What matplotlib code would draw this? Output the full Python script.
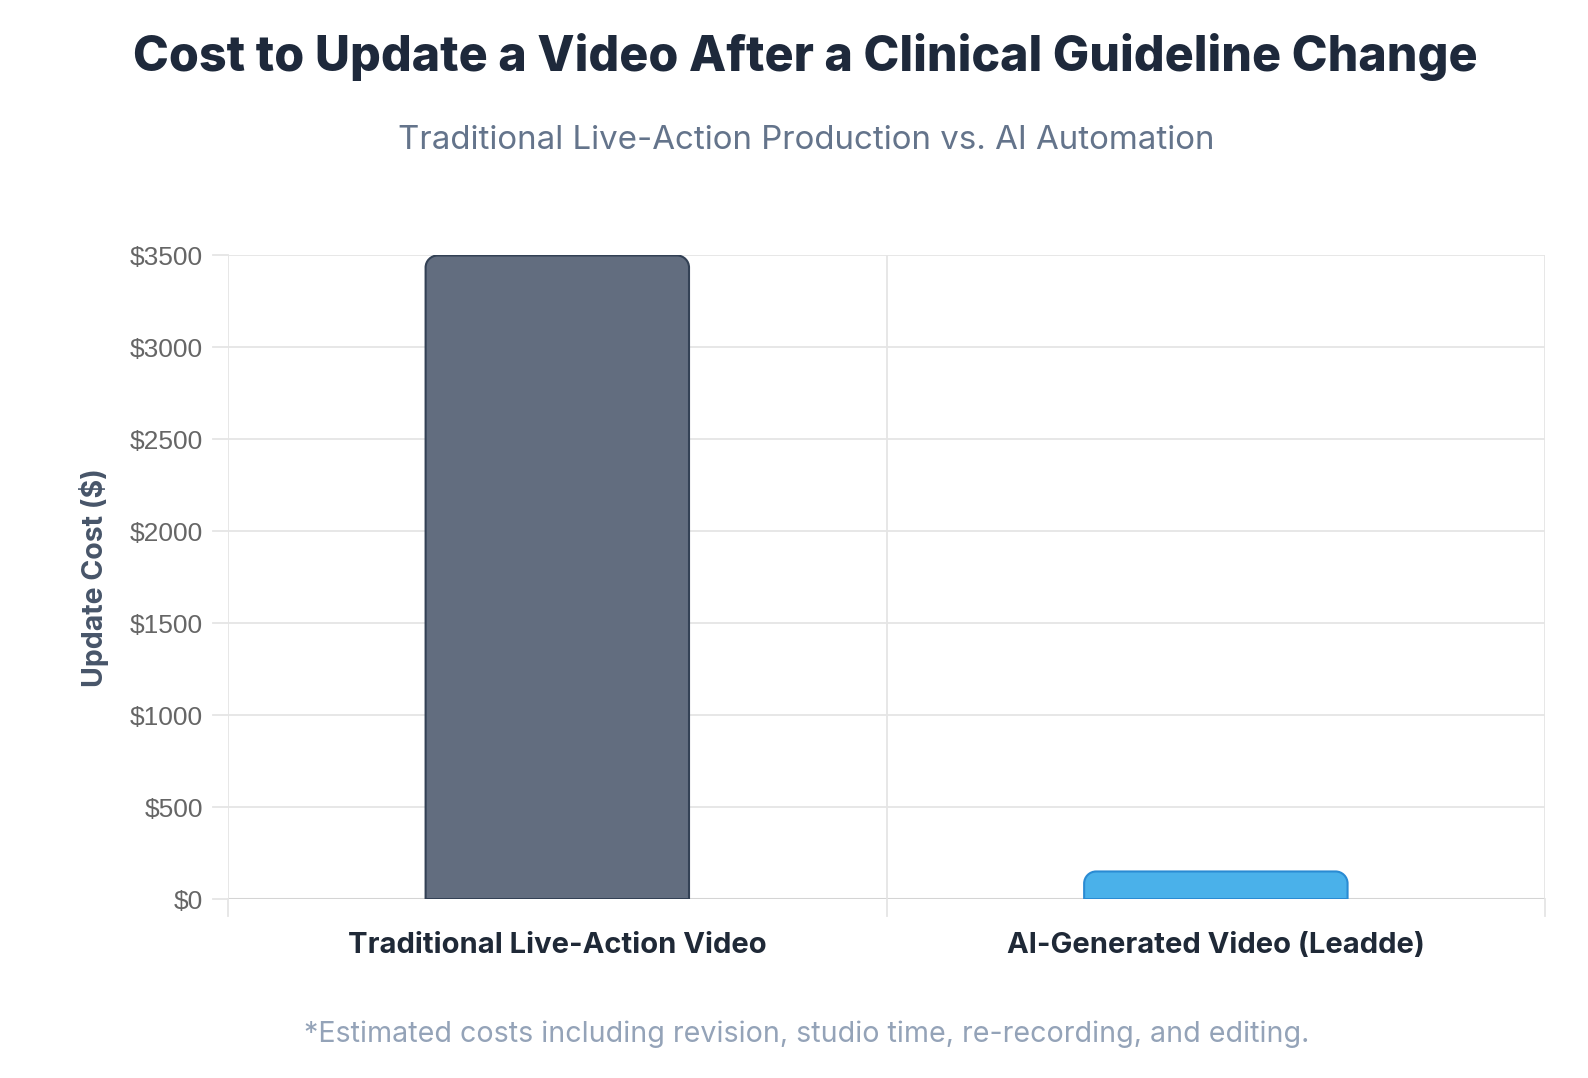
import matplotlib.pyplot as plt
from matplotlib.path import Path
from matplotlib.patches import PathPatch

categories = ["Traditional Live-Action Video", "AI-Generated Video (Leadde)"]
costs = [3500, 150]
y_ticks = [0, 500, 1000, 1500, 2000, 2500, 3000, 3500]

fill_colors = ["#626d7f", "#4ab1ea"]
edge_colors = ["#334155", "#2a8bd3"]

TITLE_FONT = ["Inter", "DejaVu Sans"]
TICK_FONT = ["Liberation Sans", "DejaVu Sans"]


def rounded_top_bar(ax, rect, radius_px, face, edge):
    # bar path with rounded top corners, radius in pixels
    x0, y0 = rect.get_x(), rect.get_y()
    w, h = rect.get_width(), rect.get_height()
    bbox = ax.get_window_extent()
    xl, yl = ax.get_xlim(), ax.get_ylim()
    rx = radius_px * (xl[1] - xl[0]) / bbox.width
    ry = min(radius_px * (yl[1] - yl[0]) / bbox.height, h)
    k = 0.5523
    verts = [
        (x0, y0),
        (x0, y0 + h - ry),
        (x0, y0 + h - ry + k * ry), (x0 + rx - k * rx, y0 + h), (x0 + rx, y0 + h),
        (x0 + w - rx, y0 + h),
        (x0 + w - rx + k * rx, y0 + h), (x0 + w, y0 + h - ry + k * ry), (x0 + w, y0 + h - ry),
        (x0 + w, y0),
        (x0, y0),
    ]
    codes = [Path.MOVETO, Path.LINETO,
             Path.CURVE4, Path.CURVE4, Path.CURVE4,
             Path.LINETO,
             Path.CURVE4, Path.CURVE4, Path.CURVE4,
             Path.LINETO, Path.CLOSEPOLY]
    patch = PathPatch(Path(verts, codes), facecolor=face, edgecolor=edge,
                      linewidth=1.5, zorder=3)
    ax.add_patch(patch)
    rect.set_visible(False)


fig = plt.figure(figsize=(15.88, 10.78), dpi=100)
ax = fig.add_axes([0.1436, 0.166, 0.8294, 0.597])

x = list(range(len(categories)))
bars = ax.bar(x, costs, width=0.4, color=fill_colors, zorder=3)

ax.set_xlim(-0.5, len(categories) - 0.5)
ax.set_ylim(0, 3500)
ax.set_yticks(y_ticks)
ax.set_yticklabels([f"${v}" for v in y_ticks], fontsize=19, color="#666666",
                   family=TICK_FONT)
ax.set_xticks(x)
ax.set_xticklabels(categories, fontsize=21, fontweight="bold", color="#1f2937",
                   family=TITLE_FONT)

# gridlines: horizontal at ticks, vertical at category boundaries
for v in y_ticks:
    ax.axhline(v, color="#e5e5e5", linewidth=1.3, zorder=0)
    ax.plot([-0.5 - 0.023, -0.5], [v, v], color="#e5e5e5", linewidth=1.3,
            clip_on=False)
for b in [-0.5, 0.5, 1.5]:
    ax.axvline(b, color="#e5e5e5", linewidth=1.3, zorder=0)
    ax.plot([b, b], [0, -3500 * 0.026], color="#e5e5e5", linewidth=1.3,
            clip_on=False)
ax.axhline(0, color="#d4d4d4", linewidth=1.5, zorder=1)

for s in ax.spines.values():
    s.set_visible(False)
ax.tick_params(axis="y", length=0, pad=18)
ax.tick_params(axis="x", length=0, pad=24)

ax.set_ylabel("Update Cost ($)", fontsize=20.5, fontweight="bold", color="#475569",
              family=TITLE_FONT, labelpad=15)

fig.canvas.draw()
for rect, fc, ec in zip(bars, fill_colors, edge_colors):
    rounded_top_bar(ax, rect, 12, fc, ec)

fig.text(0.507, 0.947, "Cost to Update a Video After a Clinical Guideline Change",
         ha="center", va="center", fontsize=34.8, fontweight=800,
         color="#1e293b", family=TITLE_FONT)
fig.text(0.508, 0.870, "Traditional Live-Action Production vs. AI Automation",
         ha="center", va="center", fontsize=23.8, color="#64748b",
         family=TITLE_FONT)
fig.text(0.508, 0.041,
         "*Estimated costs including revision, studio time, re-recording, and editing.",
         ha="center", va="center", fontsize=20.6, color="#94a3b8",
         family=TITLE_FONT)

fig.savefig("out.png", dpi=100, facecolor="white")
